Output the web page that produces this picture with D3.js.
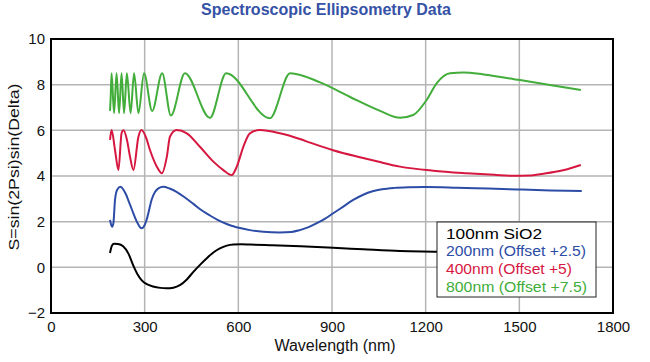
<!DOCTYPE html>
<html><head><meta charset="utf-8">
<script src="https://cdn.jsdelivr.net/npm/d3@7"></script>
<style>body{margin:0;background:#fff}svg{display:block}</style>
</head><body>
<svg id="chart" width="650" height="362"></svg>
<script>
// ---------- data ----------
const chartTitle = "Spectroscopic Ellipsometry Data";
const xLabel = "Wavelength (nm)";
const yLabel = "S=sin(2Psi)sin(Delta)";
const xTicks = [0, 300, 600, 900, 1200, 1500, 1800];
const yTicks = [-2, 0, 2, 4, 6, 8, 10];
const seriesNames = ["100nm SiO2", "200nm (Offset +2.5)", "400nm (Offset +5)", "800nm (Offset +7.5)"];
const seriesColors = ["#000000", "#2c4ca6", "#d6173f", "#42ad3a"];

// plotted values (offsets already included)
const wl100 = [189, 195, 202, 215, 231, 248, 263, 277, 290, 307, 327, 350, 370, 392, 413, 435, 456, 478, 499, 520, 541, 563, 584, 610, 637, 700, 800, 904, 1000, 1118, 1236, 1400, 1550, 1700];
const s100  = [0.63, 0.95, 1.03, 1.02, 0.92, 0.6, 0.1, -0.3, -0.56, -0.74, -0.84, -0.9, -0.92, -0.89, -0.78, -0.53, -0.2, 0.12, 0.40, 0.65, 0.83, 0.95, 1.0, 1.01, 1.0, 0.97, 0.92, 0.86, 0.79, 0.71, 0.68, 0.62, 0.57, 0.52];

const wl200 = [189, 193, 196, 200, 205, 212, 223, 232, 240, 250, 260, 275, 290, 298, 306, 314, 322, 333, 344, 360, 380, 402, 430, 456, 480, 509, 535, 563, 584, 605, 637, 680, 733, 770, 797, 825, 851, 878, 904, 935, 968, 1000, 1030, 1060, 1100, 1150, 1200, 1300, 1400, 1500, 1600, 1700];
const s200 = [2.08, 1.85, 1.78, 1.95, 2.95, 3.4, 3.53, 3.4, 3.2, 2.85, 2.5, 2.0, 1.71, 1.8, 2.07, 2.5, 2.95, 3.3, 3.46, 3.53, 3.45, 3.31, 3.05, 2.78, 2.52, 2.27, 2.07, 1.9, 1.8, 1.72, 1.63, 1.56, 1.53, 1.55, 1.63, 1.76, 1.93, 2.13, 2.37, 2.65, 2.95, 3.18, 3.33, 3.42, 3.48, 3.51, 3.52, 3.49, 3.45, 3.41, 3.37, 3.34];

const wl400 = [189, 194, 205, 216, 226, 232, 243, 253, 264, 280, 290, 304, 317, 339, 355, 371, 381, 402, 435, 477, 520, 552, 579, 595, 616, 637, 669, 733, 797, 830, 906, 1000, 1050, 1118, 1224, 1331, 1420, 1481, 1530, 1577, 1640, 1697];
const s400 = [5.58, 6.01, 5.14, 4.26, 5.87, 6.0, 5.6, 4.85, 4.26, 5.72, 6.01, 5.7, 5.14, 4.41, 4.12, 4.85, 5.72, 6.01, 5.87, 5.28, 4.63, 4.26, 4.04, 4.41, 5.28, 5.87, 6.01, 5.87, 5.62, 5.46, 5.12, 4.79, 4.62, 4.41, 4.23, 4.12, 4.05, 4.01, 4.02, 4.1, 4.25, 4.48];

const wl800 = [189, 191, 194, 202, 210, 218, 226, 234, 243, 255, 266, 280, 298, 324, 356, 384, 429, 509, 561, 701, 766, 862, 958, 1054, 1118, 1160, 1203, 1235, 1278, 1321, 1385, 1502, 1598, 1697];
const s800 = [6.85, 7.4, 8.5, 6.75, 8.5, 6.75, 8.5, 6.75, 8.5, 6.75, 8.5, 6.75, 8.5, 6.85, 8.5, 6.65, 8.5, 6.55, 8.5, 6.53, 8.5, 8.1, 7.46, 6.85, 6.55, 6.67, 7.33, 8.06, 8.5, 8.53, 8.45, 8.2, 7.99, 7.77];

// ---------- layout ----------
const W = 650, H = 362;
const margin = {left: 51, right: 37, top: 39, bottom: 49};
const iw = W - margin.left - margin.right, ih = H - margin.top - margin.bottom;
const svg = d3.select("#chart");
const font = "'Liberation Sans', Arial, sans-serif";

const x = d3.scaleLinear().domain([0, 1800]).range([margin.left, margin.left + iw]);
const y = d3.scaleLinear().domain([-2, 10]).range([margin.top + ih, margin.top]);

// gridlines
const g = svg.append("g");
g.selectAll("line.vx").data(xTicks.slice(1, -1)).enter().append("line")
  .attr("x1", d => x(d)).attr("x2", d => x(d)).attr("y1", y(-2)).attr("y2", y(10))
  .attr("stroke", "#b4b4b4").attr("stroke-width", 1.5);
g.selectAll("line.hy").data(yTicks.slice(1, -1)).enter().append("line")
  .attr("y1", d => y(d)).attr("y2", d => y(d)).attr("x1", x(0)).attr("x2", x(1800))
  .attr("stroke", "#b4b4b4").attr("stroke-width", 1.5);

// axes (labels only)
const fmt = d3.format("d");
const xAxis = d3.axisBottom(x).tickValues(xTicks).tickFormat(fmt).tickSize(0).tickPadding(8);
const yAxis = d3.axisLeft(y).tickValues(yTicks).tickFormat(fmt).tickSize(0).tickPadding(6);
const gx = svg.append("g").attr("transform", `translate(0,${y(-2)})`).call(xAxis);
const gy = svg.append("g").attr("transform", `translate(${x(0)},0)`).call(yAxis);
[gx, gy].forEach(a => {
  a.select(".domain").remove();
  a.selectAll("text").attr("font-family", font).attr("font-size", 15).attr("fill", "#111");
});

// series
const series = [[wl100, s100], [wl200, s200], [wl400, s400], [wl800, s800]];
const line = d3.line().x(d => x(d[0])).y(d => y(d[1])).curve(d3.curveMonotoneX);
series.forEach((s, i) => {
  const pts = s[0].map((w, j) => [w, s[1][j]]);
  svg.append("path").datum(pts).attr("d", line)
    .attr("fill", "none").attr("stroke", seriesColors[i]).attr("stroke-width", 2)
    .attr("stroke-linejoin", "round");
});

// frame
svg.append("rect").attr("x", x(0)).attr("y", y(10)).attr("width", iw).attr("height", ih)
  .attr("fill", "none").attr("stroke", "#000").attr("stroke-width", 2);

// title
svg.append("text").attr("x", 326).attr("y", 15).attr("text-anchor", "middle")
  .attr("font-family", font).attr("font-weight", "bold").attr("font-size", 16)
  .attr("fill", "#3552a6").text(chartTitle);

// axis titles
svg.append("text").attr("x", (x(0) + x(1800)) / 2 + 3).attr("y", 351).attr("text-anchor", "middle")
  .attr("font-family", font).attr("font-size", 16).attr("fill", "#111").text(xLabel);
svg.append("text").attr("transform", "translate(19,167) rotate(-90)").attr("text-anchor", "middle")
  .attr("font-family", font).attr("font-size", 15.5).attr("fill", "#111")
  .attr("textLength", 167).attr("lengthAdjust", "spacingAndGlyphs").text(yLabel);

// legend
const lg = svg.append("g");
lg.append("rect").attr("x", 437).attr("y", 222).attr("width", 159).attr("height", 75)
  .attr("fill", "#fff").attr("stroke", "#222").attr("stroke-width", 1);
const legendWidths = [96, 140, 126, 141];
seriesNames.forEach((n, i) => {
  lg.append("text").attr("x", 446).attr("y", 238.5 + i * 17.7)
    .attr("font-family", font).attr("font-size", 14).attr("fill", seriesColors[i])
    .attr("textLength", legendWidths[i]).attr("lengthAdjust", "spacingAndGlyphs").text(n);
});
</script>
</body></html>
